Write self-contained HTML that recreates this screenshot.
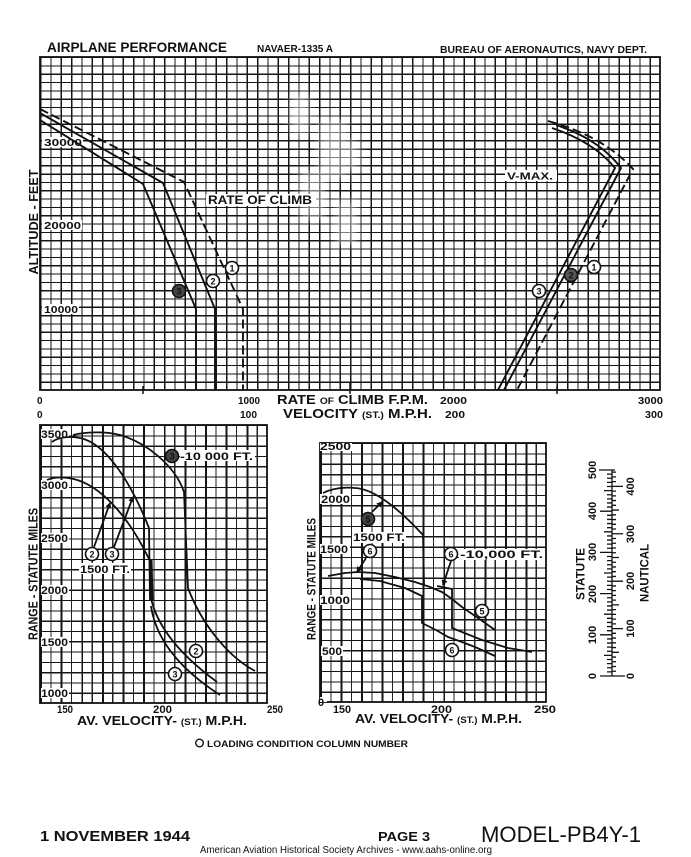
<!DOCTYPE html>
<html><head><meta charset="utf-8">
<style>
html,body{margin:0;padding:0;background:#fff;}
body{width:691px;height:857px;position:relative;overflow:hidden;}
.g{position:absolute;}
#g1{left:40px;top:57px;width:620px;height:333px;
background:repeating-linear-gradient(90deg,#151515 0,#151515 1.3px,transparent 1.3px,transparent 10.3333px),
repeating-linear-gradient(180deg,#151515 0,#151515 1.2px,transparent 1.2px,transparent 8.325px);}
#g2{left:40px;top:425px;width:227px;height:278px;
background:repeating-linear-gradient(90deg,#151515 0,#151515 1.9px,transparent 1.9px,transparent 10.318px,#222 10.318px,#222 11.5px,transparent 11.5px,transparent 20.636px),
repeating-linear-gradient(180deg,#151515 0,#151515 1.2px,transparent 1.2px,transparent 10.296px);}
#g3{left:320px;top:443px;width:226px;height:259px;
background:repeating-linear-gradient(90deg,#151515 0,#151515 1.9px,transparent 1.9px,transparent 10.273px,#222 10.273px,#222 11.45px,transparent 11.45px,transparent 20.546px),
repeating-linear-gradient(180deg,#151515 0,#151515 1.2px,transparent 1.2px,transparent 10.36px);}
svg{position:absolute;left:0;top:0;}
text{font-family:"Liberation Sans",Arial,sans-serif;font-weight:bold;fill:#111;}
</style></head>
<body>
<div class="g" id="g1"></div>
<div class="g" id="g2"></div>
<div class="g" id="g3"></div>
<svg width="691" height="857" viewBox="0 0 691 857" xmlns="http://www.w3.org/2000/svg">
<defs>
<marker id="ah" markerWidth="6" markerHeight="6" refX="5" refY="3" orient="auto" markerUnits="userSpaceOnUse"><path d="M0,0 L6,3 L0,6 z" fill="#111"/></marker>
<filter id="bl"><feGaussianBlur stdDeviation="4"/></filter>
</defs>

<!-- header -->
<text x="47" y="52" font-size="13.5" textLength="180" lengthAdjust="spacingAndGlyphs">AIRPLANE PERFORMANCE</text>
<text x="257" y="52" font-size="10" textLength="76" lengthAdjust="spacingAndGlyphs">NAVAER-1335 A</text>
<text x="440" y="53" font-size="10" textLength="207" lengthAdjust="spacingAndGlyphs">BUREAU OF AERONAUTICS, NAVY DEPT.</text>

<!-- top chart -->
<g fill="#fff" opacity="0.45" filter="url(#bl)">
<rect x="290" y="95" width="20" height="40"/>
<rect x="318" y="120" width="30" height="60"/>
<rect x="300" y="170" width="25" height="50"/>
<rect x="335" y="200" width="22" height="45"/>
<rect x="345" y="140" width="14" height="30"/>
</g>
<rect x="40" y="57" width="620" height="333" fill="none" stroke="#111" stroke-width="1.8"/>
<path d="M143,386V394M350,382V394M557,386V394" stroke="#111" stroke-width="1.5"/>

<rect x="42" y="137" width="41" height="10" fill="#fff"/>
<text x="44" y="146" font-size="10.5" textLength="38" lengthAdjust="spacingAndGlyphs">30000</text>
<rect x="42" y="220" width="40" height="10" fill="#fff"/>
<text x="44" y="229" font-size="10.5" textLength="37" lengthAdjust="spacingAndGlyphs">20000</text>
<rect x="42" y="304" width="37" height="10" fill="#fff"/>
<text x="44" y="313" font-size="10.5" textLength="34" lengthAdjust="spacingAndGlyphs">10000</text>

<rect x="206" y="194" width="110" height="12" fill="#fff"/>
<text x="208" y="204" font-size="11.5" textLength="104" lengthAdjust="spacingAndGlyphs">RATE OF CLIMB</text>
<rect x="505" y="170" width="52" height="11" fill="#fff"/>
<text x="507" y="179.5" font-size="10" textLength="46" lengthAdjust="spacingAndGlyphs">V-MAX.</text>

<g fill="none" stroke="#111" stroke-width="1.9" stroke-linejoin="round">
<path d="M40,120 L143,184 L196,309 L196,390"/>
<path d="M40,113 L163,183 L215,309 L215,390"/>
<path d="M40,109 L184,182 L243,309 L243,390" stroke-dasharray="9 4"/>
<path d="M548,121 Q603,136 633,169 L517,390" stroke-dasharray="9 4"/>
<path d="M556,125 Q599,139 621,168 L504,390"/>
<path d="M552,128 Q594,142 615,168 L498,390"/>
</g>

<g stroke="#111" stroke-width="1.6" fill="#fff">
<circle cx="232" cy="268" r="6.5"/><circle cx="213" cy="281" r="6.5"/><circle cx="179" cy="291" r="6.5" fill="#444"/>
<circle cx="594" cy="267" r="6.5"/><circle cx="571" cy="275" r="6.5" fill="#555"/><circle cx="539" cy="291" r="6.5"/>
</g>
<g font-size="9" text-anchor="middle">
<text x="232" y="271.3">1</text><text x="213" y="284.3">2</text><text x="179" y="294.3" fill="#ddd">3</text>
<text x="594" y="270.3">1</text><text x="571" y="278.3" fill="#eee">2</text><text x="539" y="294.3">3</text>
</g>

<text transform="translate(38,222) rotate(-90)" text-anchor="middle" font-size="13" textLength="105" lengthAdjust="spacingAndGlyphs">ALTITUDE - FEET</text>

<!-- top axis labels -->
<text x="37" y="404" font-size="10">0</text>
<text x="238" y="404" font-size="10" textLength="22" lengthAdjust="spacingAndGlyphs">1000</text>
<text x="277" y="404" font-size="13" textLength="151" lengthAdjust="spacingAndGlyphs">RATE <tspan font-size="9">OF</tspan> CLIMB  F.P.M.</text>
<text x="440" y="404" font-size="10.5" textLength="27" lengthAdjust="spacingAndGlyphs">2000</text>
<text x="638" y="404" font-size="10.5" textLength="25" lengthAdjust="spacingAndGlyphs">3000</text>
<text x="37" y="418" font-size="10">0</text>
<text x="240" y="418" font-size="10" textLength="17" lengthAdjust="spacingAndGlyphs">100</text>
<text x="283" y="418" font-size="13" textLength="149" lengthAdjust="spacingAndGlyphs">VELOCITY <tspan font-size="9">(ST.)</tspan> M.P.H.</text>
<text x="445" y="418" font-size="10.5" textLength="20" lengthAdjust="spacingAndGlyphs">200</text>
<text x="645" y="418" font-size="10.5" textLength="18" lengthAdjust="spacingAndGlyphs">300</text>

<!-- bottom-left chart -->
<rect x="40" y="425" width="227" height="278" fill="none" stroke="#111" stroke-width="1.8"/>
<g fill="#fff">
<rect x="41" y="429" width="28" height="10"/><rect x="41" y="480" width="28" height="10"/><rect x="41" y="533" width="28" height="10"/>
<rect x="41" y="585" width="28" height="10"/><rect x="41" y="637" width="28" height="10"/><rect x="41" y="688" width="28" height="10"/>
</g>
<g font-size="11">
<text x="41" y="438" textLength="27" lengthAdjust="spacingAndGlyphs">3500</text>
<text x="41" y="489" textLength="27" lengthAdjust="spacingAndGlyphs">3000</text>
<text x="41" y="542" textLength="27" lengthAdjust="spacingAndGlyphs">2500</text>
<text x="41" y="594" textLength="27" lengthAdjust="spacingAndGlyphs">2000</text>
<text x="41" y="646" textLength="27" lengthAdjust="spacingAndGlyphs">1500</text>
<text x="41" y="697" textLength="27" lengthAdjust="spacingAndGlyphs">1000</text>
</g>
<g fill="none" stroke="#111" stroke-width="1.8" stroke-linejoin="round">
<path d="M52,442 C58,437 70,436 80,438 C105,443 130,480 149,528 L150,600"/>
<path d="M47,480 C53,477 60,477 68,478 C95,481 125,510 148,557 L151,562 L151,600"/>
<path d="M151,598 Q160,640 217,682"/>
<path d="M151,606 Q158,655 220,695"/>
<path d="M73,435 C85,432 105,431 120,435 C145,442 175,465 184,492 L188,588 C200,620 225,655 255,671"/>
<path d="M151,560 L152,600" stroke-width="3"/>
<path d="M94,547 L110,503" marker-end="url(#ah)"/>
<path d="M114,547 L133,497" marker-end="url(#ah)"/>
</g>
<g stroke="#111" stroke-width="1.6" fill="#fff">
<circle cx="172" cy="456" r="6.5" fill="#444"/>
<circle cx="92" cy="554" r="6.5"/><circle cx="112" cy="554" r="6.5"/>
<circle cx="175" cy="674" r="6.5"/><circle cx="196" cy="651" r="6.5"/>
</g>
<g font-size="9" text-anchor="middle">
<text x="172" y="459.3" fill="#eee">3</text>
<text x="92" y="557.3">2</text><text x="112" y="557.3">3</text>
<text x="175" y="677.3">3</text><text x="196" y="654.3">2</text>
</g>
<rect x="180" y="450" width="75" height="11" fill="#fff"/>
<text x="180" y="460" font-size="11" textLength="73" lengthAdjust="spacingAndGlyphs">-10 000 FT.</text>
<rect x="79" y="563" width="52" height="11" fill="#fff"/>
<text x="80" y="573" font-size="11" textLength="50" lengthAdjust="spacingAndGlyphs">1500 FT.</text>

<text transform="translate(37.5,574) rotate(-90)" text-anchor="middle" font-size="12.5" textLength="132" lengthAdjust="spacingAndGlyphs">RANGE - STATUTE MILES</text>
<text x="57" y="713" font-size="11" textLength="16" lengthAdjust="spacingAndGlyphs">150</text>
<text x="153" y="713" font-size="11" textLength="19" lengthAdjust="spacingAndGlyphs">200</text>
<text x="267" y="713" font-size="11" textLength="16" lengthAdjust="spacingAndGlyphs">250</text>
<text x="77" y="725" font-size="13" textLength="170" lengthAdjust="spacingAndGlyphs">AV. VELOCITY- <tspan font-size="9">(ST.)</tspan> M.P.H.</text>

<!-- middle chart -->
<rect x="320" y="443" width="226" height="259" fill="none" stroke="#111" stroke-width="1.8"/>
<g fill="#fff">
<rect x="320" y="443" width="32" height="8"/><rect x="320" y="494" width="31" height="10"/><rect x="320" y="544" width="30" height="10"/>
<rect x="320" y="595" width="31" height="10"/><rect x="321" y="646" width="22" height="10"/><rect x="320" y="697" width="7" height="5"/>
</g>
<g font-size="11">
<text x="320" y="450" textLength="31" lengthAdjust="spacingAndGlyphs">2500</text>
<text x="321" y="503" textLength="29" lengthAdjust="spacingAndGlyphs">2000</text>
<text x="320" y="553" textLength="28" lengthAdjust="spacingAndGlyphs">1500</text>
<text x="320" y="604" textLength="30" lengthAdjust="spacingAndGlyphs">1000</text>
<text x="322" y="655" textLength="20" lengthAdjust="spacingAndGlyphs">500</text>
<text x="318" y="706">0</text>
</g>
<g fill="none" stroke="#111" stroke-width="1.8" stroke-linejoin="round">
<path d="M323,493 C333,488 345,487 355,488 C375,489 400,510 423,535 L424,584"/>
<polyline points="328,576 345,573 358,572 375,573 395,577 415,582 430,587 442,592 452,599 462,607 478,618 495,630"/>
<polyline points="360,579 380,581 405,588 422,596 422,623 436,630 448,637 462,642 475,647 495,656"/>
<polyline points="437,586 452,589 452,628 467,634 482,640 508,648 532,652"/>
<path d="M372,512 L382,502" marker-end="url(#ah)"/>
<path d="M366,558 L357,572" marker-end="url(#ah)"/>
<path d="M451,561 L443,585" marker-end="url(#ah)"/>
</g>
<g stroke="#111" stroke-width="1.6" fill="#fff">
<circle cx="368" cy="519" r="6.5" fill="#444"/>
<circle cx="370" cy="551" r="6.5"/>
<circle cx="451" cy="554" r="6.5"/>
<circle cx="482" cy="611" r="6.5"/>
<circle cx="452" cy="650" r="6.5"/>
</g>
<g font-size="9" text-anchor="middle">
<text x="368" y="522.3" fill="#eee">5</text>
<text x="370" y="554.3">6</text>
<text x="451" y="557.3">6</text>
<text x="482" y="614.3">5</text>
<text x="452" y="653.3">6</text>
</g>
<rect x="352" y="532" width="54" height="11" fill="#fff"/>
<text x="353" y="541" font-size="11" textLength="52" lengthAdjust="spacingAndGlyphs">1500 FT.</text>
<rect x="459" y="549" width="86" height="11" fill="#fff"/>
<text x="460" y="558" font-size="11" textLength="83" lengthAdjust="spacingAndGlyphs">-10,000 FT.</text>

<text transform="translate(315.5,579) rotate(-90)" text-anchor="middle" font-size="12" textLength="122" lengthAdjust="spacingAndGlyphs">RANGE - STATUTE MILES</text>
<text x="333" y="713" font-size="11" textLength="18" lengthAdjust="spacingAndGlyphs">150</text>
<text x="431" y="713" font-size="11" textLength="21" lengthAdjust="spacingAndGlyphs">200</text>
<text x="534" y="713" font-size="11" textLength="22" lengthAdjust="spacingAndGlyphs">250</text>
<text x="355" y="723" font-size="13" textLength="167" lengthAdjust="spacingAndGlyphs">AV. VELOCITY- <tspan font-size="9">(ST.)</tspan> M.P.H.</text>

<!-- scale -->
<g stroke="#111" stroke-width="1.3" fill="none">
<path d="M612,470 V676"/>
<path d="M600,676H625 M599,470H615"/>
<path d="M600,634.8H612 M600,593.6H612 M600,552.4H612 M600,511.2H612
M604,655.4H612 M604,614.2H612 M604,573H612 M604,531.8H612 M604,490.6H612
M607,671.88H612 M607,667.76H612 M607,663.64H612 M607,659.52H612 M607,651.28H612 M607,647.16H612 M607,643.04H612 M607,638.92H612
M607,630.68H612 M607,626.56H612 M607,622.44H612 M607,618.32H612 M607,610.08H612 M607,605.96H612 M607,601.84H612 M607,597.72H612
M607,589.48H612 M607,585.36H612 M607,581.24H612 M607,577.12H612 M607,568.88H612 M607,564.76H612 M607,560.64H612 M607,556.52H612
M607,548.28H612 M607,544.16H612 M607,540.04H612 M607,535.92H612 M607,527.68H612 M607,523.56H612 M607,519.44H612 M607,515.32H612
M607,507.08H612 M607,502.96H612 M607,498.84H612 M607,494.72H612 M607,486.48H612 M607,482.36H612 M607,478.24H612 M607,474.12H612"/>
<path d="M612,628.59H623 M612,581.18H623 M612,533.77H623 M612,486.36H623
M612,652.3H619 M612,604.89H619 M612,557.48H619 M612,510.07H619
M612,671.26H616 M612,666.52H616 M612,661.78H616 M612,657.04H616 M612,647.55H616 M612,642.81H616 M612,638.07H616 M612,633.33H616
M612,623.85H616 M612,619.11H616 M612,614.37H616 M612,609.63H616 M612,600.14H616 M612,595.4H616 M612,590.66H616 M612,585.92H616
M612,576.44H616 M612,571.7H616 M612,566.96H616 M612,562.22H616 M612,552.73H616 M612,547.99H616 M612,543.25H616 M612,538.51H616
M612,529.03H616 M612,524.29H616 M612,519.55H616 M612,514.81H616 M612,505.32H616 M612,500.58H616 M612,495.84H616 M612,491.1H616
M612,481.62H616 M612,476.88H616 M612,472.14H616"/>
</g>
<g font-size="11" text-anchor="middle">
<text transform="translate(596,676) rotate(-90)">0</text>
<text transform="translate(596,635) rotate(-90)">100</text>
<text transform="translate(596,594) rotate(-90)">200</text>
<text transform="translate(596,552) rotate(-90)">300</text>
<text transform="translate(596,511) rotate(-90)">400</text>
<text transform="translate(596,470) rotate(-90)">500</text>
<text transform="translate(634,676) rotate(-90)">0</text>
<text transform="translate(634,628.6) rotate(-90)">100</text>
<text transform="translate(634,581) rotate(-90)">200</text>
<text transform="translate(634,534) rotate(-90)">300</text>
<text transform="translate(634,486.5) rotate(-90)">400</text>
</g>
<text transform="translate(584.5,574) rotate(-90)" text-anchor="middle" font-size="12" textLength="52" lengthAdjust="spacingAndGlyphs">STATUTE</text>
<text transform="translate(648.5,573) rotate(-90)" text-anchor="middle" font-size="12" textLength="58" lengthAdjust="spacingAndGlyphs">NAUTICAL</text>

<!-- footer -->
<circle cx="199.5" cy="743" r="3.8" fill="none" stroke="#111" stroke-width="1.4"/>
<text x="207" y="747" font-size="9.5" textLength="201" lengthAdjust="spacingAndGlyphs">LOADING  CONDITION  COLUMN  NUMBER</text>
<text x="40" y="841" font-size="15" textLength="150" lengthAdjust="spacingAndGlyphs">1 NOVEMBER 1944</text>
<text x="378" y="841" font-size="13" textLength="52" lengthAdjust="spacingAndGlyphs">PAGE  3</text>
<text x="481" y="842" font-size="22" textLength="160" lengthAdjust="spacingAndGlyphs" style="font-weight:normal">MODEL-PB4Y-1</text>
<text x="200" y="853" font-size="10" textLength="292" lengthAdjust="spacingAndGlyphs" style="font-weight:normal">American Aviation Historical Society Archives - www.aahs-online.org</text>
</svg>
</body></html>
